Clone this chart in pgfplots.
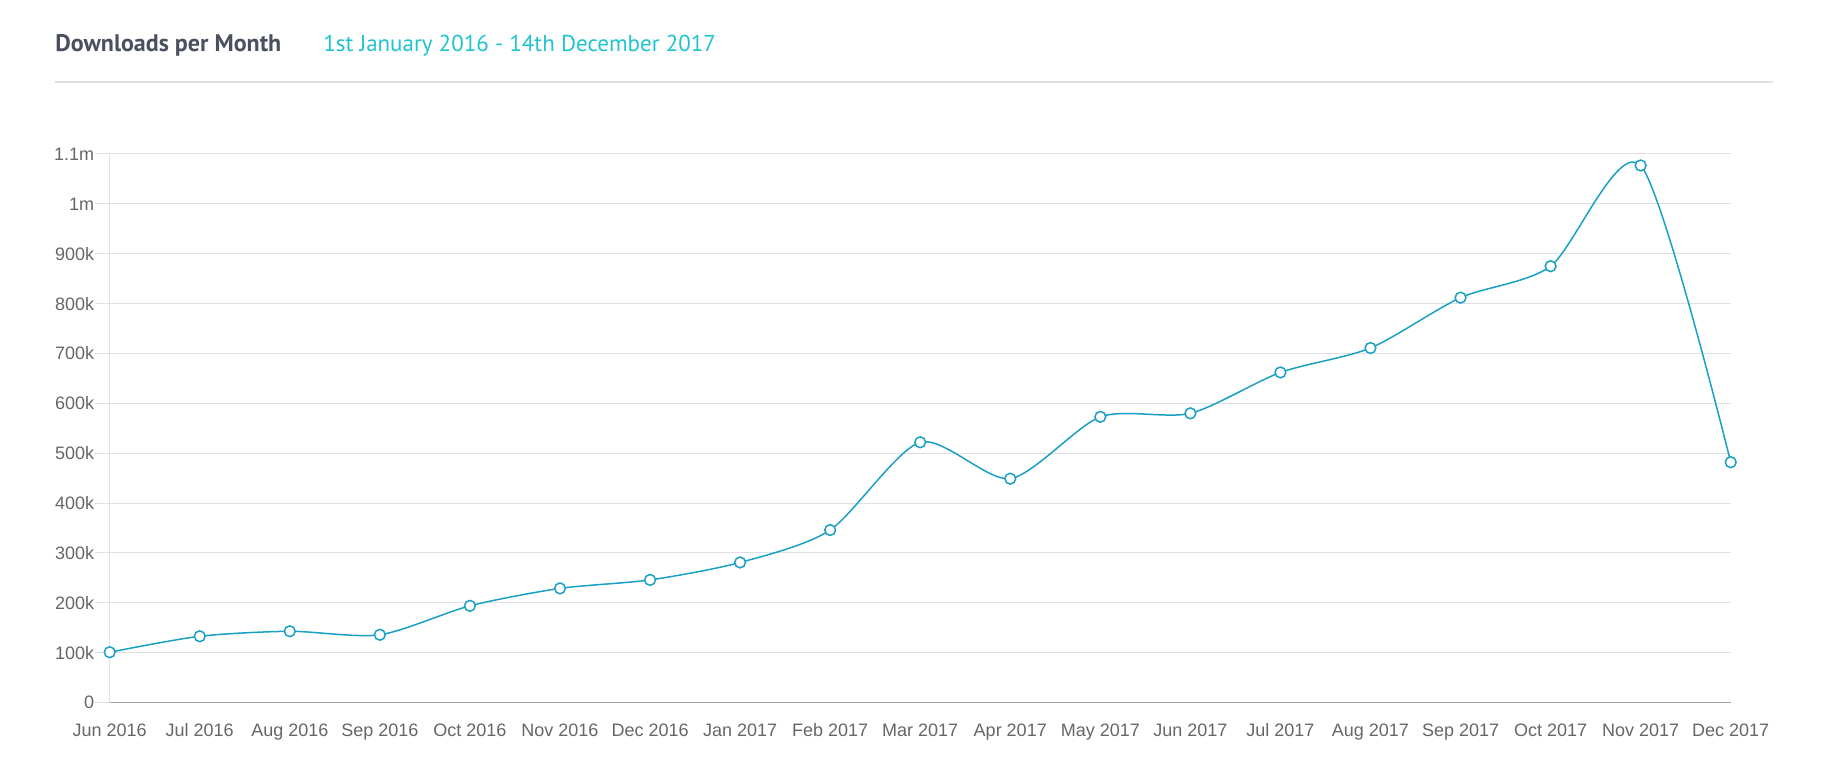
\documentclass[border=0pt]{standalone}
\usepackage{fontspec}
\setmainfont{Liberation Sans}
\newfontfamily\titlefont{PT Sans}
\usepackage{pgfplots}
\pgfplotsset{compat=1.18}
\definecolor{linec}{RGB}{25,160,196}
\definecolor{subc}{RGB}{32,196,206}
\definecolor{titc}{RGB}{74,80,96}
\definecolor{gridc}{RGB}{224,224,228}
\definecolor{labc}{RGB}{102,102,102}
\begin{document}
\begin{tikzpicture}
\useasboundingbox (0,0) rectangle (915pt,386pt);
\node[anchor=west,inner sep=0,text=titc] at (27.5pt,363.3pt) {\titlefont\fontsize{12pt}{14pt}\selectfont\bfseries Downloads per Month};
\node[anchor=west,inner sep=0,text=subc] at (161.5pt,363.3pt) {\titlefont\fontsize{11.5pt}{14pt}\selectfont 1st January 2016 - 14th December 2017};
\draw[gridc,line width=1pt] (27.5pt,345.2pt) -- (886.5pt,345.2pt);
\begin{axis}[
  at={(54.85pt,34.7pt)}, anchor=south west,
  scale only axis, width=810.5pt, height=274.3pt,
  xmin=0, xmax=18, ymin=0, ymax=1100000,
  axis x line=bottom, axis y line=left,
  axis line style={-},
  x axis line style={draw=black!35, line width=0.6pt},
  y axis line style={draw=gridc, line width=0.5pt},
  xtick={0,...,18},
  xticklabels={Jun 2016,Jul 2016,Aug 2016,Sep 2016,Oct 2016,Nov 2016,Dec 2016,Jan 2017,Feb 2017,Mar 2017,Apr 2017,May 2017,Jun 2017,Jul 2017,Aug 2017,Sep 2017,Oct 2017,Nov 2017,Dec 2017},
  ytick={0,100000,200000,300000,400000,500000,600000,700000,800000,900000,1000000,1100000},
  yticklabels={0,100k,200k,300k,400k,500k,600k,700k,800k,900k,1m,1.1m},
  scaled y ticks=false,
  ymajorgrids, grid style={gridc, line width=0.5pt},
  tick align=outside,
  xtick style={draw=none},
  ytick style={draw=gridc, line width=0.5pt},
  major tick length=7.5pt,
  tick label style={font=\fontsize{9pt}{10pt}\selectfont, text=labc},
  xticklabel style={text height=6.6pt, text depth=1.9pt, yshift=0.7pt},
  yticklabel style={xshift=3.3pt},
  /pgf/number format/assume math mode=true,
  clip=false,
]
\addplot[linec, line width=0.75pt, smooth, tension=0.45, mark=*, mark size=2.7pt, mark options={fill=white, draw=linec, line width=0.75pt}]
coordinates {
(0,101000) (1,133000) (2,143000) (3,136000) (4,194000) (5,229000) (6,246000) (7,281000) (8,346000) (9,522000) (10,449000) (11,573000) (12,580000) (13,662000) (14,711000) (15,812000) (16,875000) (17,1077000) (18,482000)
};
\end{axis}
\end{tikzpicture}
\end{document}
